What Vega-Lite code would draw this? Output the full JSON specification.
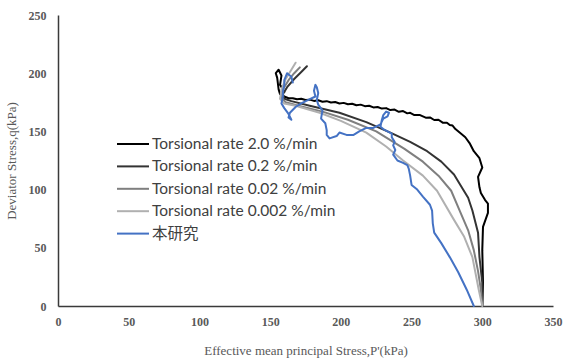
{
  "$schema": "https://vega.github.io/schema/vega-lite/v6.json",
  "width": 495,
  "height": 291,
  "autosize": {"type": "none"},
  "padding": {"left": 58, "top": 15, "right": 11, "bottom": 58},
  "background": "white",
  "config": {"view": {"stroke": null}},
  "datasets": {
    "a": [
      {"s": "Torsional rate 2.0 %/min", "i": 1, "p": 300, "q": 0},
      {"s": "Torsional rate 2.0 %/min", "i": 2, "p": 300.5, "q": 20},
      {"s": "Torsional rate 2.0 %/min", "i": 3, "p": 300, "q": 48},
      {"s": "Torsional rate 2.0 %/min", "i": 4, "p": 300.5, "q": 68},
      {"s": "Torsional rate 2.0 %/min", "i": 5, "p": 304, "q": 80},
      {"s": "Torsional rate 2.0 %/min", "i": 6, "p": 304, "q": 88},
      {"s": "Torsional rate 2.0 %/min", "i": 7, "p": 302, "q": 91},
      {"s": "Torsional rate 2.0 %/min", "i": 8, "p": 299, "q": 97},
      {"s": "Torsional rate 2.0 %/min", "i": 9, "p": 298, "q": 102},
      {"s": "Torsional rate 2.0 %/min", "i": 10, "p": 297, "q": 111},
      {"s": "Torsional rate 2.0 %/min", "i": 11, "p": 300, "q": 119},
      {"s": "Torsional rate 2.0 %/min", "i": 12, "p": 298, "q": 127},
      {"s": "Torsional rate 2.0 %/min", "i": 13, "p": 294, "q": 133},
      {"s": "Torsional rate 2.0 %/min", "i": 14, "p": 291, "q": 140},
      {"s": "Torsional rate 2.0 %/min", "i": 15, "p": 288, "q": 145},
      {"s": "Torsional rate 2.0 %/min", "i": 16, "p": 284, "q": 149},
      {"s": "Torsional rate 2.0 %/min", "i": 17, "p": 281, "q": 152},
      {"s": "Torsional rate 2.0 %/min", "i": 18, "p": 279, "q": 155},
      {"s": "Torsional rate 2.0 %/min", "i": 19, "p": 277, "q": 155.5},
      {"s": "Torsional rate 2.0 %/min", "i": 20, "p": 275, "q": 157.5},
      {"s": "Torsional rate 2.0 %/min", "i": 21, "p": 272, "q": 157.5},
      {"s": "Torsional rate 2.0 %/min", "i": 22, "p": 269, "q": 160},
      {"s": "Torsional rate 2.0 %/min", "i": 23, "p": 266, "q": 159.8},
      {"s": "Torsional rate 2.0 %/min", "i": 24, "p": 263, "q": 162},
      {"s": "Torsional rate 2.0 %/min", "i": 25, "p": 260, "q": 161.8},
      {"s": "Torsional rate 2.0 %/min", "i": 26, "p": 256, "q": 164},
      {"s": "Torsional rate 2.0 %/min", "i": 27, "p": 252, "q": 164},
      {"s": "Torsional rate 2.0 %/min", "i": 28, "p": 249, "q": 166},
      {"s": "Torsional rate 2.0 %/min", "i": 29, "p": 247, "q": 165.5},
      {"s": "Torsional rate 2.0 %/min", "i": 30, "p": 244, "q": 167.5},
      {"s": "Torsional rate 2.0 %/min", "i": 31, "p": 241, "q": 166.8},
      {"s": "Torsional rate 2.0 %/min", "i": 32, "p": 238, "q": 168.8},
      {"s": "Torsional rate 2.0 %/min", "i": 33, "p": 235, "q": 168.3},
      {"s": "Torsional rate 2.0 %/min", "i": 34, "p": 232, "q": 170},
      {"s": "Torsional rate 2.0 %/min", "i": 35, "p": 229, "q": 169.6},
      {"s": "Torsional rate 2.0 %/min", "i": 36, "p": 226, "q": 171},
      {"s": "Torsional rate 2.0 %/min", "i": 37, "p": 223, "q": 170.6},
      {"s": "Torsional rate 2.0 %/min", "i": 38, "p": 220, "q": 172},
      {"s": "Torsional rate 2.0 %/min", "i": 39, "p": 217, "q": 171.7},
      {"s": "Torsional rate 2.0 %/min", "i": 40, "p": 214, "q": 173},
      {"s": "Torsional rate 2.0 %/min", "i": 41, "p": 211, "q": 172.5},
      {"s": "Torsional rate 2.0 %/min", "i": 42, "p": 208, "q": 173.8},
      {"s": "Torsional rate 2.0 %/min", "i": 43, "p": 205, "q": 173.3},
      {"s": "Torsional rate 2.0 %/min", "i": 44, "p": 202, "q": 174.5},
      {"s": "Torsional rate 2.0 %/min", "i": 45, "p": 199, "q": 174},
      {"s": "Torsional rate 2.0 %/min", "i": 46, "p": 196, "q": 175.2},
      {"s": "Torsional rate 2.0 %/min", "i": 47, "p": 193, "q": 174.8},
      {"s": "Torsional rate 2.0 %/min", "i": 48, "p": 190, "q": 176},
      {"s": "Torsional rate 2.0 %/min", "i": 49, "p": 187, "q": 175.5},
      {"s": "Torsional rate 2.0 %/min", "i": 50, "p": 184, "q": 176.7},
      {"s": "Torsional rate 2.0 %/min", "i": 51, "p": 181, "q": 176.2},
      {"s": "Torsional rate 2.0 %/min", "i": 52, "p": 178, "q": 177.3},
      {"s": "Torsional rate 2.0 %/min", "i": 53, "p": 175, "q": 177},
      {"s": "Torsional rate 2.0 %/min", "i": 54, "p": 172, "q": 178},
      {"s": "Torsional rate 2.0 %/min", "i": 55, "p": 169, "q": 177.6},
      {"s": "Torsional rate 2.0 %/min", "i": 56, "p": 166, "q": 178.5},
      {"s": "Torsional rate 2.0 %/min", "i": 57, "p": 163, "q": 178.5},
      {"s": "Torsional rate 2.0 %/min", "i": 58, "p": 160, "q": 180},
      {"s": "Torsional rate 2.0 %/min", "i": 59, "p": 157, "q": 182},
      {"s": "Torsional rate 2.0 %/min", "i": 60, "p": 156, "q": 186},
      {"s": "Torsional rate 2.0 %/min", "i": 61, "p": 155, "q": 196},
      {"s": "Torsional rate 2.0 %/min", "i": 62, "p": 154, "q": 200},
      {"s": "Torsional rate 2.0 %/min", "i": 63, "p": 156, "q": 203},
      {"s": "Torsional rate 2.0 %/min", "i": 64, "p": 158, "q": 198},
      {"s": "Torsional rate 2.0 %/min", "i": 65, "p": 157, "q": 190},
      {"s": "Torsional rate 2.0 %/min", "i": 66, "p": 160, "q": 184},

      {"s": "Torsional rate 0.2 %/min", "i": 1, "p": 300, "q": 0},
      {"s": "Torsional rate 0.2 %/min", "i": 2, "p": 300, "q": 20},
      {"s": "Torsional rate 0.2 %/min", "i": 3, "p": 298, "q": 42},
      {"s": "Torsional rate 0.2 %/min", "i": 4, "p": 297, "q": 63},
      {"s": "Torsional rate 0.2 %/min", "i": 5, "p": 293, "q": 82},
      {"s": "Torsional rate 0.2 %/min", "i": 6, "p": 290, "q": 93},
      {"s": "Torsional rate 0.2 %/min", "i": 7, "p": 286, "q": 101},
      {"s": "Torsional rate 0.2 %/min", "i": 8, "p": 280, "q": 113},
      {"s": "Torsional rate 0.2 %/min", "i": 9, "p": 271, "q": 124},
      {"s": "Torsional rate 0.2 %/min", "i": 10, "p": 261, "q": 133},
      {"s": "Torsional rate 0.2 %/min", "i": 11, "p": 249, "q": 141},
      {"s": "Torsional rate 0.2 %/min", "i": 12, "p": 235, "q": 149},
      {"s": "Torsional rate 0.2 %/min", "i": 13, "p": 218, "q": 158},
      {"s": "Torsional rate 0.2 %/min", "i": 14, "p": 199, "q": 166},
      {"s": "Torsional rate 0.2 %/min", "i": 15, "p": 178, "q": 172},
      {"s": "Torsional rate 0.2 %/min", "i": 16, "p": 165, "q": 176},
      {"s": "Torsional rate 0.2 %/min", "i": 17, "p": 160, "q": 178},
      {"s": "Torsional rate 0.2 %/min", "i": 18, "p": 159, "q": 182},
      {"s": "Torsional rate 0.2 %/min", "i": 19, "p": 162, "q": 188},
      {"s": "Torsional rate 0.2 %/min", "i": 20, "p": 167, "q": 195},
      {"s": "Torsional rate 0.2 %/min", "i": 21, "p": 172, "q": 201},
      {"s": "Torsional rate 0.2 %/min", "i": 22, "p": 176, "q": 206},

      {"s": "Torsional rate 0.02 %/min", "i": 1, "p": 300, "q": 0},
      {"s": "Torsional rate 0.02 %/min", "i": 2, "p": 299, "q": 14},
      {"s": "Torsional rate 0.02 %/min", "i": 3, "p": 297, "q": 30},
      {"s": "Torsional rate 0.02 %/min", "i": 4, "p": 294, "q": 48},
      {"s": "Torsional rate 0.02 %/min", "i": 5, "p": 290, "q": 65},
      {"s": "Torsional rate 0.02 %/min", "i": 6, "p": 284, "q": 82},
      {"s": "Torsional rate 0.02 %/min", "i": 7, "p": 278, "q": 99},
      {"s": "Torsional rate 0.02 %/min", "i": 8, "p": 269, "q": 112},
      {"s": "Torsional rate 0.02 %/min", "i": 9, "p": 258, "q": 124},
      {"s": "Torsional rate 0.02 %/min", "i": 10, "p": 245, "q": 135},
      {"s": "Torsional rate 0.02 %/min", "i": 11, "p": 225, "q": 150},
      {"s": "Torsional rate 0.02 %/min", "i": 12, "p": 205, "q": 160},
      {"s": "Torsional rate 0.02 %/min", "i": 13, "p": 187, "q": 167},
      {"s": "Torsional rate 0.02 %/min", "i": 14, "p": 170, "q": 172},
      {"s": "Torsional rate 0.02 %/min", "i": 15, "p": 161, "q": 175},
      {"s": "Torsional rate 0.02 %/min", "i": 16, "p": 158, "q": 179},
      {"s": "Torsional rate 0.02 %/min", "i": 17, "p": 159, "q": 186},
      {"s": "Torsional rate 0.02 %/min", "i": 18, "p": 163, "q": 194},
      {"s": "Torsional rate 0.02 %/min", "i": 19, "p": 167, "q": 200},
      {"s": "Torsional rate 0.02 %/min", "i": 20, "p": 171, "q": 205},

      {"s": "Torsional rate 0.002 %/min", "i": 1, "p": 300, "q": 0},
      {"s": "Torsional rate 0.002 %/min", "i": 2, "p": 297.5, "q": 14},
      {"s": "Torsional rate 0.002 %/min", "i": 3, "p": 293, "q": 42},
      {"s": "Torsional rate 0.002 %/min", "i": 4, "p": 287, "q": 60},
      {"s": "Torsional rate 0.002 %/min", "i": 5, "p": 280, "q": 74},
      {"s": "Torsional rate 0.002 %/min", "i": 6, "p": 268, "q": 99},
      {"s": "Torsional rate 0.002 %/min", "i": 7, "p": 258, "q": 112},
      {"s": "Torsional rate 0.002 %/min", "i": 8, "p": 244, "q": 125},
      {"s": "Torsional rate 0.002 %/min", "i": 9, "p": 232, "q": 137},
      {"s": "Torsional rate 0.002 %/min", "i": 10, "p": 218, "q": 149},
      {"s": "Torsional rate 0.002 %/min", "i": 11, "p": 200, "q": 159},
      {"s": "Torsional rate 0.002 %/min", "i": 12, "p": 185, "q": 166},
      {"s": "Torsional rate 0.002 %/min", "i": 13, "p": 168, "q": 172},
      {"s": "Torsional rate 0.002 %/min", "i": 14, "p": 160, "q": 174},
      {"s": "Torsional rate 0.002 %/min", "i": 15, "p": 157, "q": 178},
      {"s": "Torsional rate 0.002 %/min", "i": 16, "p": 158, "q": 186},
      {"s": "Torsional rate 0.002 %/min", "i": 17, "p": 161, "q": 195},
      {"s": "Torsional rate 0.002 %/min", "i": 18, "p": 165, "q": 203},
      {"s": "Torsional rate 0.002 %/min", "i": 19, "p": 168, "q": 209},

      {"s": "本研究", "i": 1, "p": 294, "q": 0},
      {"s": "本研究", "i": 2, "p": 289, "q": 14},
      {"s": "本研究", "i": 3, "p": 283, "q": 29},
      {"s": "本研究", "i": 4, "p": 277, "q": 42},
      {"s": "本研究", "i": 5, "p": 271, "q": 54},
      {"s": "本研究", "i": 6, "p": 266, "q": 63},
      {"s": "本研究", "i": 7, "p": 265, "q": 71},
      {"s": "本研究", "i": 8, "p": 264.5, "q": 82},
      {"s": "本研究", "i": 9, "p": 263, "q": 87},
      {"s": "本研究", "i": 10, "p": 258, "q": 94},
      {"s": "本研究", "i": 11, "p": 254, "q": 100},
      {"s": "本研究", "i": 12, "p": 250, "q": 104},
      {"s": "本研究", "i": 13, "p": 249, "q": 112},
      {"s": "本研究", "i": 14, "p": 248, "q": 118},
      {"s": "本研究", "i": 15, "p": 247, "q": 121},
      {"s": "本研究", "i": 16, "p": 244, "q": 123},
      {"s": "本研究", "i": 17, "p": 240, "q": 125},
      {"s": "本研究", "i": 18, "p": 237, "q": 130},
      {"s": "本研究", "i": 19, "p": 238.5, "q": 134},
      {"s": "本研究", "i": 20, "p": 237, "q": 138},
      {"s": "本研究", "i": 21, "p": 238, "q": 141},
      {"s": "本研究", "i": 22, "p": 236, "q": 145},
      {"s": "本研究", "i": 23, "p": 236, "q": 148},
      {"s": "本研究", "i": 24, "p": 233, "q": 150},
      {"s": "本研究", "i": 25, "p": 230, "q": 152},
      {"s": "本研究", "i": 26, "p": 228, "q": 154},
      {"s": "本研究", "i": 27, "p": 229, "q": 160},
      {"s": "本研究", "i": 28, "p": 230, "q": 164},
      {"s": "本研究", "i": 29, "p": 232, "q": 167},
      {"s": "本研究", "i": 30, "p": 234, "q": 166},
      {"s": "本研究", "i": 31, "p": 233, "q": 163},
      {"s": "本研究", "i": 32, "p": 230, "q": 161},
      {"s": "本研究", "i": 33, "p": 228, "q": 156},
      {"s": "本研究", "i": 34, "p": 223, "q": 153},
      {"s": "本研究", "i": 35, "p": 218, "q": 153},
      {"s": "本研究", "i": 36, "p": 213, "q": 150},
      {"s": "本研究", "i": 37, "p": 209, "q": 147},
      {"s": "本研究", "i": 38, "p": 204, "q": 147},
      {"s": "本研究", "i": 39, "p": 199, "q": 149},
      {"s": "本研究", "i": 40, "p": 197, "q": 146},
      {"s": "本研究", "i": 41, "p": 192, "q": 144},
      {"s": "本研究", "i": 42, "p": 190, "q": 147},
      {"s": "本研究", "i": 43, "p": 190, "q": 151},
      {"s": "本研究", "i": 44, "p": 189, "q": 157},
      {"s": "本研究", "i": 45, "p": 186, "q": 161},
      {"s": "本研究", "i": 46, "p": 187, "q": 168},
      {"s": "本研究", "i": 47, "p": 184, "q": 173},
      {"s": "本研究", "i": 48, "p": 183, "q": 177},
      {"s": "本研究", "i": 49, "p": 184, "q": 183},
      {"s": "本研究", "i": 50, "p": 183, "q": 188},
      {"s": "本研究", "i": 51, "p": 182, "q": 190},
      {"s": "本研究", "i": 52, "p": 181, "q": 185},
      {"s": "本研究", "i": 53, "p": 182, "q": 180},
      {"s": "本研究", "i": 54, "p": 177, "q": 177},
      {"s": "本研究", "i": 55, "p": 172, "q": 174},
      {"s": "本研究", "i": 56, "p": 168, "q": 171},
      {"s": "本研究", "i": 57, "p": 164, "q": 166},
      {"s": "本研究", "i": 58, "p": 163, "q": 162},
      {"s": "本研究", "i": 59, "p": 165, "q": 160},
      {"s": "本研究", "i": 60, "p": 163, "q": 165},
      {"s": "本研究", "i": 61, "p": 160, "q": 170},
      {"s": "本研究", "i": 62, "p": 158, "q": 174},
      {"s": "本研究", "i": 63, "p": 159, "q": 180},
      {"s": "本研究", "i": 64, "p": 159, "q": 184},
      {"s": "本研究", "i": 65, "p": 160, "q": 190},
      {"s": "本研究", "i": 66, "p": 160, "q": 194},
      {"s": "本研究", "i": 67, "p": 162, "q": 200},
      {"s": "本研究", "i": 68, "p": 165, "q": 197},
      {"s": "本研究", "i": 69, "p": 166, "q": 192}
    ]
  },
  "data": {"name": "a"},
  "mark": {"type": "line", "strokeJoin": "round", "strokeCap": "round"},
  "encoding": {
    "x": {
      "field": "p", "type": "quantitative",
      "scale": {"domain": [0, 350], "nice": false, "zero": true},
      "axis": {
        "title": "Effective mean principal Stress,P'(kPa)",
        "values": [0, 50, 100, 150, 200, 250, 300, 350],
        "grid": false, "ticks": false,
        "domainColor": "#3a3a3a", "domainWidth": 1.5,
        "labelFont": "Liberation Serif", "labelFontSize": 12, "labelFontWeight": "bold",
        "labelColor": "#595959", "labelPadding": 10, "labelFlush": false,
        "titleFont": "Liberation Serif", "titleFontSize": 13, "titleFontWeight": "normal",
        "titleColor": "#595959", "titlePadding": 17
      }
    },
    "y": {
      "field": "q", "type": "quantitative",
      "scale": {"domain": [0, 250], "nice": false},
      "axis": {
        "title": "Deviator Stress,q(kPa)",
        "values": [0, 50, 100, 150, 200, 250],
        "grid": false, "ticks": false,
        "domainColor": "#3a3a3a", "domainWidth": 1.5,
        "labelFont": "Liberation Serif", "labelFontSize": 12, "labelFontWeight": "bold",
        "labelColor": "#595959", "labelPadding": 12, "labelFlush": false,
        "titleFont": "Liberation Serif", "titleFontSize": 13, "titleFontWeight": "normal",
        "titleColor": "#595959", "titlePadding": 10
      }
    },
    "order": {"field": "i", "type": "quantitative"},
    "color": {
      "field": "s", "type": "nominal",
      "scale": {
        "domain": ["Torsional rate 2.0 %/min", "Torsional rate 0.2 %/min", "Torsional rate 0.02 %/min", "Torsional rate 0.002 %/min", "本研究"],
        "range": ["#000000", "#333333", "#7f7f7f", "#b0b0b0", "#4472c4"]
      },
      "legend": {
        "title": null, "orient": "none", "legendX": 74, "legendY": 120,
        "symbolType": "M-3,0H1", "symbolSize": 256, "symbolStrokeWidth": 2.5,
        "labelFont": "Lato, 'Noto Sans CJK JP'", "labelFontSize": 15.5, "labelColor": "#404040",
        "labelOffset": 2, "rowPadding": 4.4, "labelLimit": 400
      }
    },
    "strokeWidth": {
      "field": "s", "type": "nominal",
      "scale": {
        "domain": ["Torsional rate 2.0 %/min", "Torsional rate 0.2 %/min", "Torsional rate 0.02 %/min", "Torsional rate 0.002 %/min", "本研究"],
        "range": [2, 2, 2, 2, 2.5]
      },
      "legend": null
    }
  }
}
